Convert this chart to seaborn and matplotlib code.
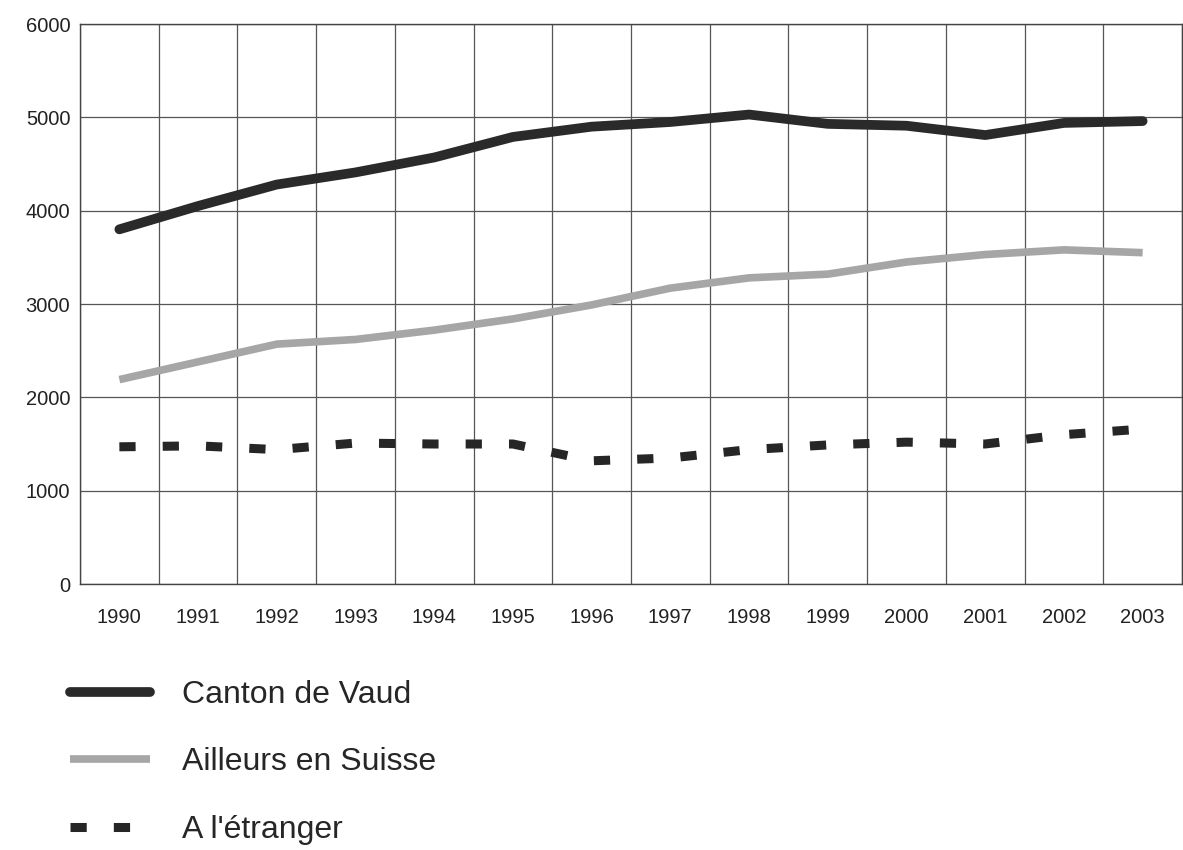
import numpy as np
import pandas as pd
import matplotlib
matplotlib.use("Agg")
import matplotlib.pyplot as plt
import seaborn as sns

years = ["1990", "1991", "1992", "1993", "1994", "1995", "1996",
         "1997", "1998", "1999", "2000", "2001", "2002", "2003"]
vaud = [3800, 4050, 4280, 4410, 4570, 4790, 4900, 4950, 5030, 4930, 4910, 4810, 4940, 4960]
suisse = [2190, 2380, 2570, 2620, 2720, 2840, 2990, 3170, 3280, 3320, 3450, 3530, 3580, 3550]
etranger = [1470, 1480, 1440, 1510, 1500, 1500, 1320, 1350, 1440, 1490, 1520, 1500, 1600, 1660]
series_names = ["Canton de Vaud", "Ailleurs en Suisse", "A l'étranger"]
y_ticks = [0, 1000, 2000, 3000, 4000, 5000, 6000]

sns.set_theme(style="white")
plt.rcParams['font.family'] = ['Liberation Sans', 'DejaVu Sans']

fig = plt.figure(figsize=(11.83, 8.5), dpi=100)
ax = fig.add_axes([80/1183, 1-584/850, 1102/1183, 560/850])

x = np.arange(len(years))
df = pd.DataFrame({"x": x, "vaud": vaud, "suisse": suisse, "etranger": etranger})

sns.lineplot(data=df, x="x", y="vaud", ax=ax, color="#2a2a2a", linewidth=7,
             solid_capstyle="round", label=series_names[0])
sns.lineplot(data=df, x="x", y="suisse", ax=ax, color="#a6a6a6", linewidth=5.5,
             solid_capstyle="butt", label=series_names[1])
sns.lineplot(data=df, x="x", y="etranger", ax=ax, color="#262626", linewidth=6.5,
             label=series_names[2], dashes=False)
ln = ax.get_lines()[-1]
ln.set_dashes((1.8, 3.0))
ln.set_dash_capstyle("butt")

ax.set_xlim(-0.5, len(years) - 0.5)
ax.set_ylim(0, 6000)
ax.set_yticks(y_ticks)
ax.set_yticklabels([str(v) for v in y_ticks], fontsize=14.5, color="#222222")
ax.set_xticks(x)
ax.set_xticklabels(years, fontsize=14.5, color="#222222")
ax.set_xticks(np.arange(len(years) + 1) - 0.5, minor=True)
ax.set_xlabel("")
ax.set_ylabel("")

ax.grid(False)
for v in y_ticks:
    ax.axhline(v, color="#555555", linewidth=0.9, zorder=0)
for b in np.arange(len(years) + 1) - 0.5:
    ax.axvline(b, color="#555555", linewidth=0.9, zorder=0)

for s in ax.spines.values():
    s.set_color("#444444")
    s.set_linewidth(1.0)

ax.tick_params(axis="x", which="major", length=0, pad=17)
ax.tick_params(axis="x", which="minor", length=5, width=1, color="#444444", direction="out")
ax.tick_params(axis="y", which="major", length=5, width=1, color="#444444", direction="out", pad=2)

handles, labels = ax.get_legend_handles_labels()
ax.get_legend().remove()
leg = fig.legend(handles, labels, loc="upper left", bbox_to_anchor=(70/1183, 1-680/850),
                 frameon=False, fontsize=23, handlelength=2.5, handletextpad=1.0,
                 labelspacing=1.17, borderpad=0, borderaxespad=0)

fig.savefig("out.png", dpi=100, facecolor="white")
